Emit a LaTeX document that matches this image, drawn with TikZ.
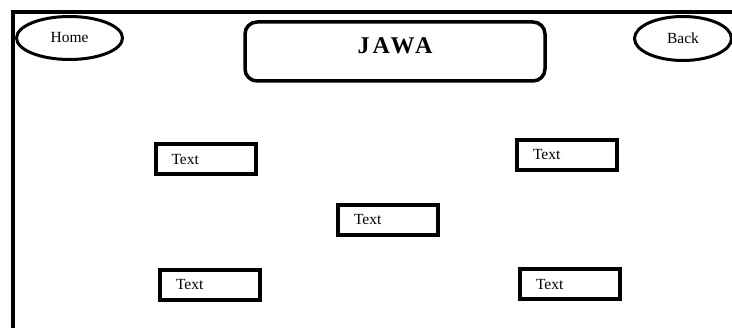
\documentclass[tikz,border=0pt]{standalone}
\usepackage{fontspec}
\setmainfont{Liberation Serif}
\usetikzlibrary{shapes.geometric}

\begin{document}
\begin{tikzpicture}[
      x=1pt,y=-1pt,
      font=\fontsize{15.5}{18}\selectfont,
      frame/.style={line width=4pt},
      button/.style={draw,ellipse,line width=3pt,inner sep=0pt},
      title/.style={draw,rounded corners=12pt,line width=3.5pt,minimum width=300pt,minimum height=59pt,text depth=11pt,
        font=\fontsize{24}{27}\selectfont\bfseries\addfontfeature{LetterSpace=13}},
      txtbox/.style={draw,line width=4pt,minimum height=30pt,text width=68pt,inner xsep=16pt,align=left}
    ]
    \useasboundingbox (0,0) rectangle (732,328);
    % Draw the frame.
    \coordinate (corner) at (13,12);
    \draw[frame] (745,12) -- (corner) -- (13,340);
    % Draw the buttons and the title.
    \node[button,minimum width=106pt,minimum height=43pt] (home) at (69.5,38) {Home};
    \node[button,minimum width=97pt,minimum height=44pt] (back) at (683,38.5) {Back};
    \node[title] (jawa) at (395,51.5) {JAWA};
    % Draw the text boxes.
    \node[txtbox] (tl) at (205.5,159.5) {Text};
    \node[txtbox] (tr) at (567,155) {Text};
    \node[txtbox] (mid) at (388,220) {Text};
    \node[txtbox] (bl) at (210,285) {Text};
    \node[txtbox] (br) at (570,284.5) {Text};
\end{tikzpicture}
\end{document}
